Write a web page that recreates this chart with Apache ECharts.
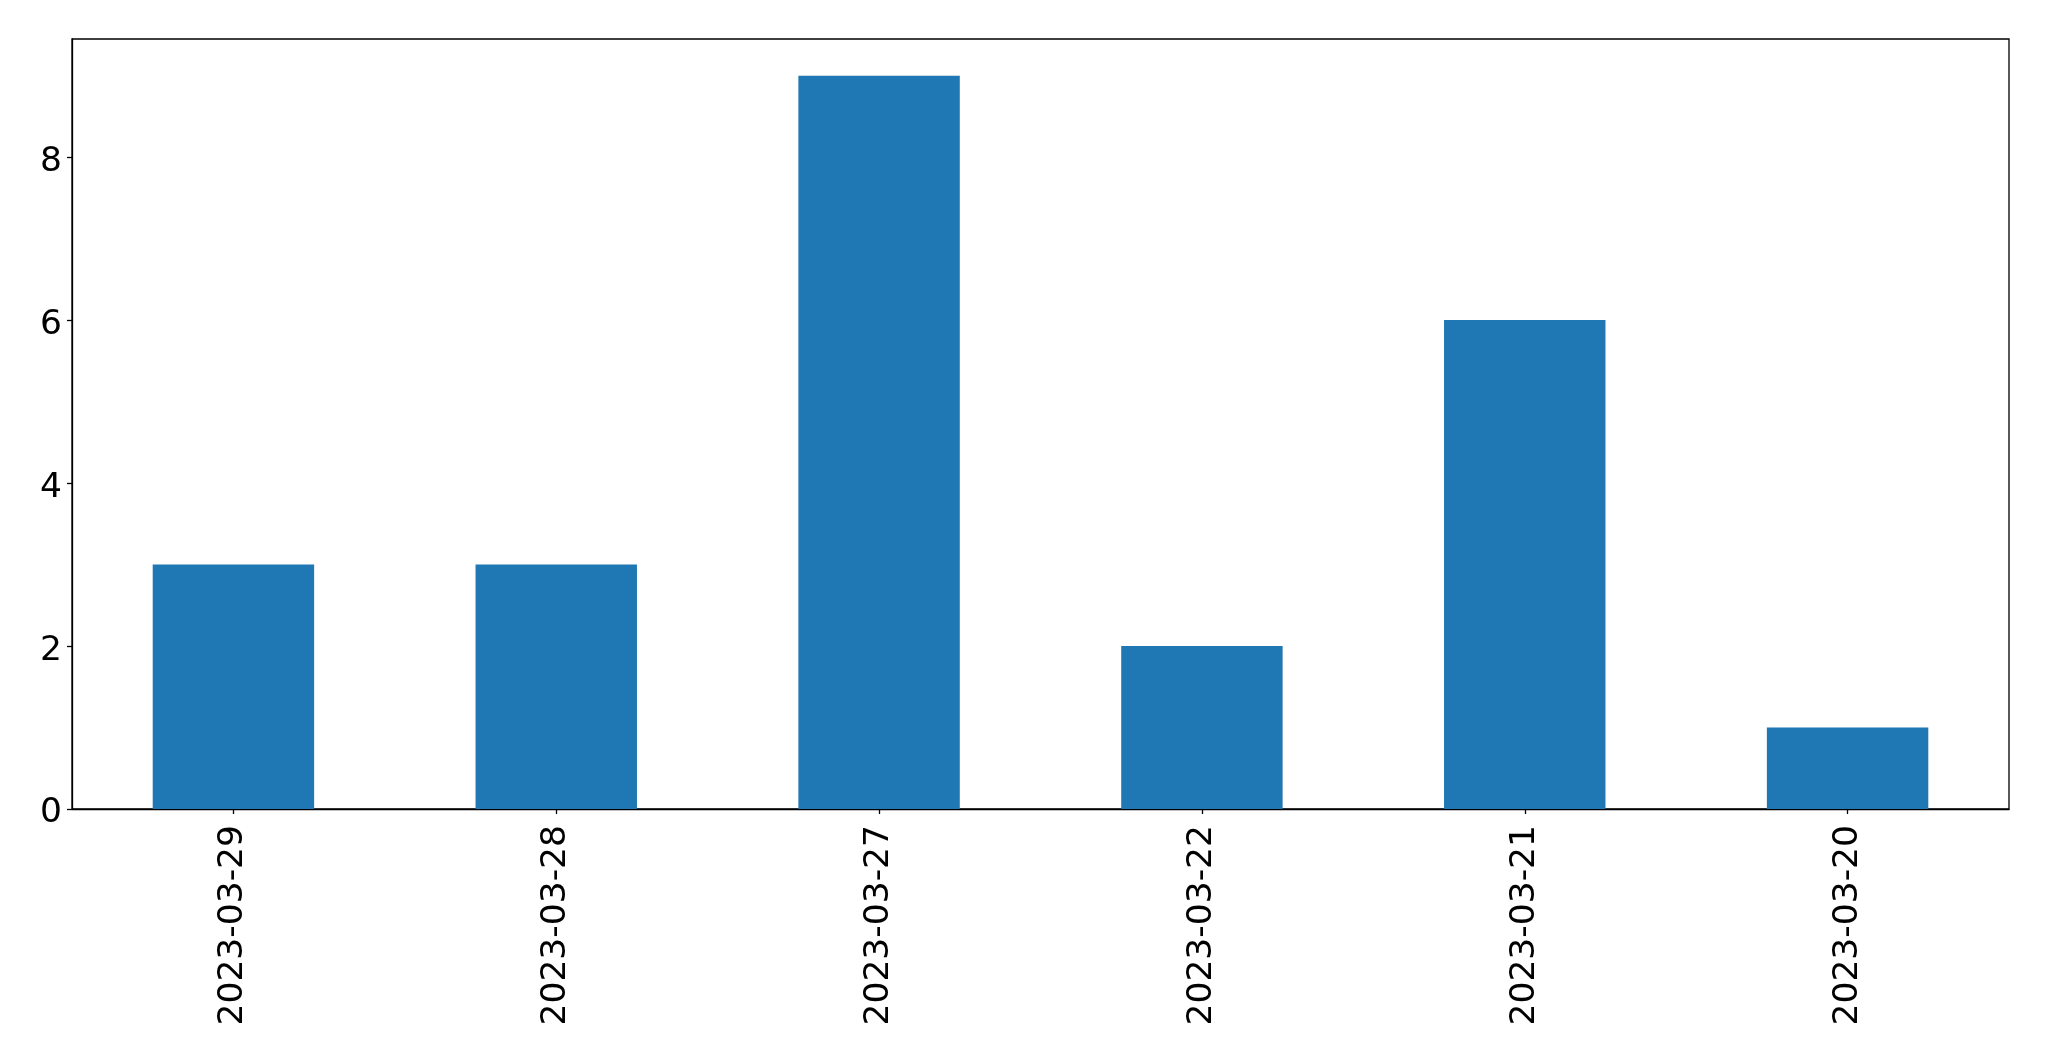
<!DOCTYPE html>
<html>
<head>
<meta charset="utf-8">
<script src="https://cdn.jsdelivr.net/npm/echarts@6/dist/echarts.min.js"></script>
<style>
html,body{margin:0;padding:0;background:#fff;}
#c{width:2049px;height:1061px;}
</style>
</head>
<body>
<div id="c"></div>
<script>
const categories = ['2023-03-29','2023-03-28','2023-03-27','2023-03-22','2023-03-21','2023-03-20'];
const counts = [3,3,9,2,6,1];
const yTicks = [0,2,4,6,8];

const chart = echarts.init(document.getElementById('c'), null, {renderer:'canvas'});
chart.setOption({
  animation:false,
  backgroundColor:'#ffffff',
  grid:{left:72,right:40,top:39,bottom:252,show:true,borderColor:'#000',borderWidth:1.3,containLabel:false},
  xAxis:{
    type:'category',
    data:categories,
    boundaryGap:true,
    axisLine:{show:true,lineStyle:{color:'#000',width:1.3}},
    axisTick:{show:true,alignWithLabel:true,length:5,lineStyle:{color:'#000',width:1.3}},
    axisLabel:{rotate:90,margin:16,fontFamily:'DejaVu Sans',fontSize:34.5,color:'#000'},
    splitLine:{show:false}
  },
  yAxis:{
    type:'value',
    min:0,max:9.45,
    axisLine:{show:true,lineStyle:{color:'#000',width:1.3}},
    axisTick:{show:true,length:5,customValues:yTicks,lineStyle:{color:'#000',width:1.3}},
    axisLabel:{
      customValues:yTicks,margin:10,
      formatter:function(v){return '{a|'+v+'}';},
      rich:{a:{padding:[9,0,0,0],fontFamily:'DejaVu Sans',fontSize:34.5,color:'#000'}},
      fontFamily:'DejaVu Sans',fontSize:34.5,color:'#000'
    },
    splitLine:{show:false}
  },
  series:[{
    type:'bar',
    data:counts,
    barWidth:'50%',
    itemStyle:{color:'#1f77b4'}
  }]
});
</script>
</body>
</html>
